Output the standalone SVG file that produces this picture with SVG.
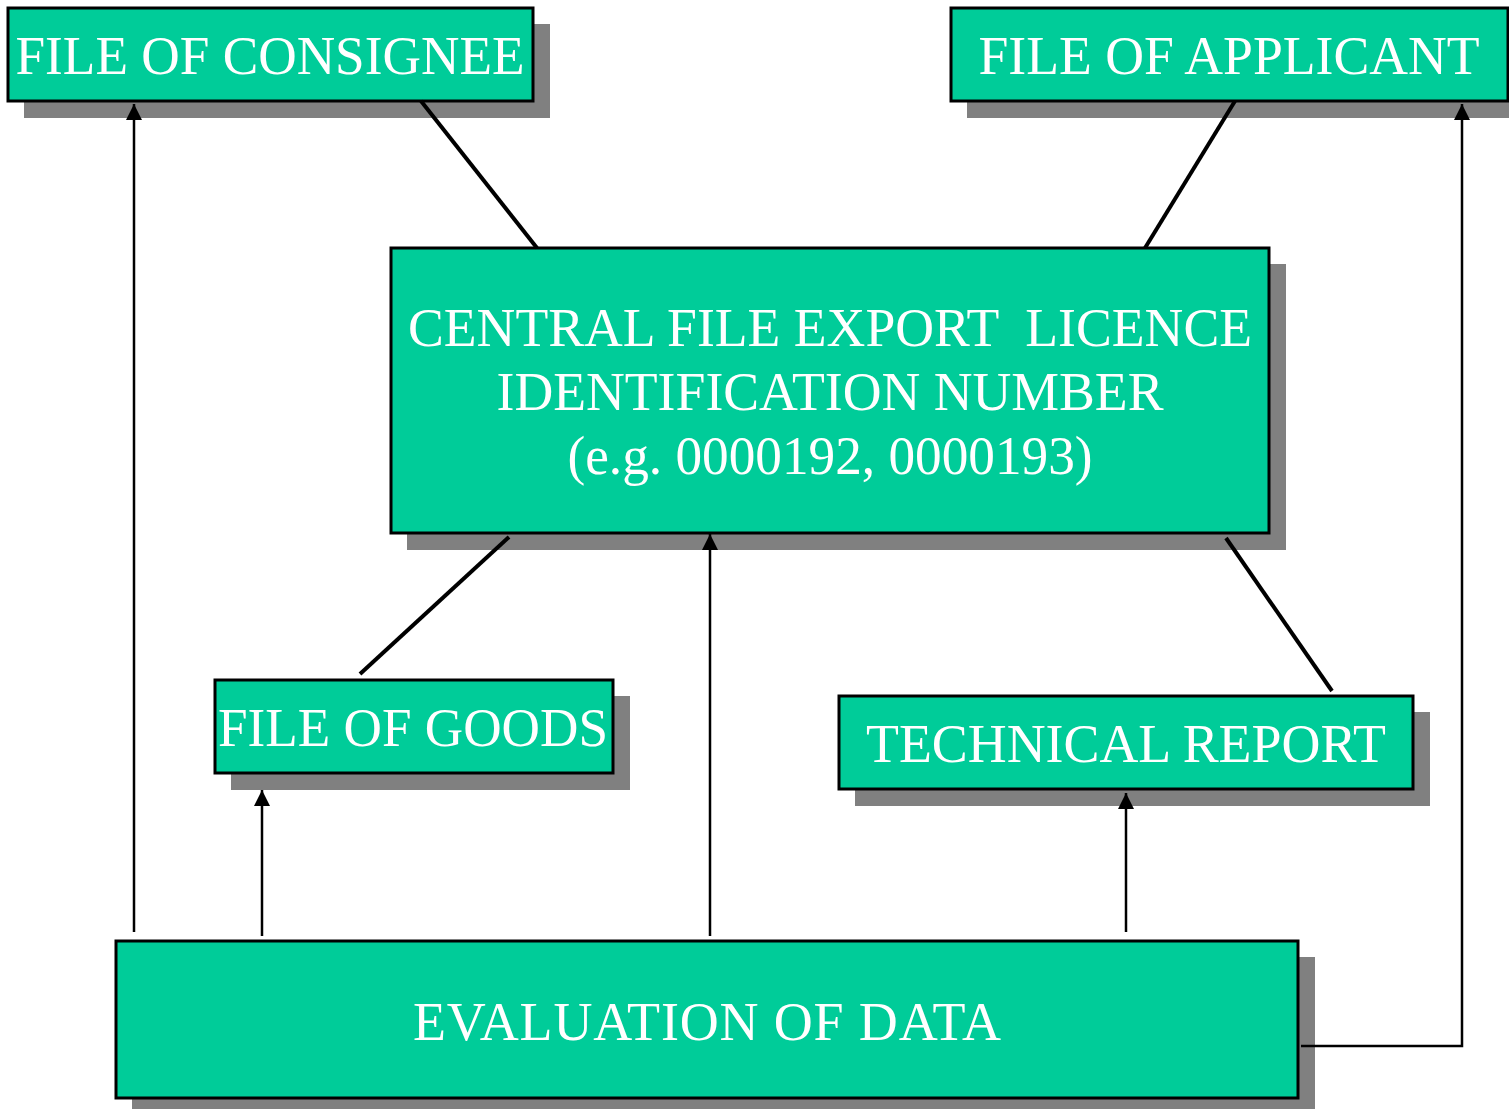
<svg xmlns="http://www.w3.org/2000/svg" width="1509" height="1109" viewBox="0 0 1509 1109">
<style>
.shadow{fill:#808080;stroke:none}
.box{fill:#00CC99;stroke:#000;stroke-width:3}
.lbl{font-family:"Liberation Serif","Times New Roman",serif;font-size:54px;fill:#fff;text-anchor:middle;white-space:pre}
.link{stroke:#000;stroke-width:4;fill:none}
.arr{stroke:#000;stroke-width:2.5;fill:none}
</style>
<defs>
<marker id="up" viewBox="0 0 16 16" refX="8" refY="0" markerWidth="16" markerHeight="16" markerUnits="userSpaceOnUse" orient="0">
<path d="M8 0 L16 16 L0 16 Z" fill="#000"/>
</marker>
</defs>
<rect width="1509" height="1109" fill="#fff"/>
<g id="consignee">
<rect class="shadow" x="24" y="24" width="526" height="94"/>
<rect class="box" x="8" y="8" width="525" height="93"/>
<text class="lbl" x="270" y="74" textLength="509" lengthAdjust="spacingAndGlyphs">FILE OF CONSIGNEE</text>
</g>
<g id="applicant">
<rect class="shadow" x="967" y="24" width="545" height="94"/>
<rect class="box" x="951" y="8" width="557" height="93"/>
<text class="lbl" x="1229" y="74" textLength="501" lengthAdjust="spacingAndGlyphs">FILE OF APPLICANT</text>
</g>
<g id="central">
<rect class="shadow" x="407" y="264" width="879" height="286"/>
<rect class="box" x="391" y="248" width="878" height="285"/>
<text class="lbl" x="830" y="346" textLength="844" lengthAdjust="spacingAndGlyphs">CENTRAL FILE EXPORT  LICENCE</text>
<text class="lbl" x="830" y="410" textLength="667" lengthAdjust="spacingAndGlyphs">IDENTIFICATION NUMBER</text>
<text class="lbl" x="830" y="474" textLength="525" lengthAdjust="spacingAndGlyphs">(e.g. 0000192, 0000193)</text>
</g>
<g id="goods">
<rect class="shadow" x="231" y="696" width="399" height="94"/>
<rect class="box" x="215" y="680" width="398" height="93"/>
<text class="lbl" x="413" y="746" textLength="390" lengthAdjust="spacingAndGlyphs">FILE OF GOODS</text>
</g>
<g id="technical">
<rect class="shadow" x="855" y="712" width="575" height="94"/>
<rect class="box" x="839" y="696" width="574" height="93"/>
<text class="lbl" x="1126" y="762" textLength="520" lengthAdjust="spacingAndGlyphs">TECHNICAL REPORT</text>
</g>
<g id="evaluation">
<rect class="shadow" x="132" y="957" width="1183" height="152"/>
<rect class="box" x="116" y="941" width="1182" height="157"/>
<text class="lbl" x="707" y="1040" textLength="588" lengthAdjust="spacing">EVALUATION OF DATA</text>
</g>
<g id="connectors">
<line class="link" x1="421" y1="101" x2="537" y2="248"/>
<line class="link" x1="1235" y1="101" x2="1145" y2="248"/>
<line class="link" x1="509" y1="537" x2="360" y2="674"/>
<line class="link" x1="1226" y1="538" x2="1332" y2="691"/>
<line class="arr" x1="134" y1="932" x2="134" y2="104" marker-end="url(#up)"/>
<line class="arr" x1="262" y1="936" x2="262" y2="790" marker-end="url(#up)"/>
<line class="arr" x1="710" y1="936" x2="710" y2="534" marker-end="url(#up)"/>
<line class="arr" x1="1126" y1="932" x2="1126" y2="793" marker-end="url(#up)"/>
<polyline class="arr" points="1301,1046 1462,1046 1462,104" marker-end="url(#up)"/>
</g>
</svg>
